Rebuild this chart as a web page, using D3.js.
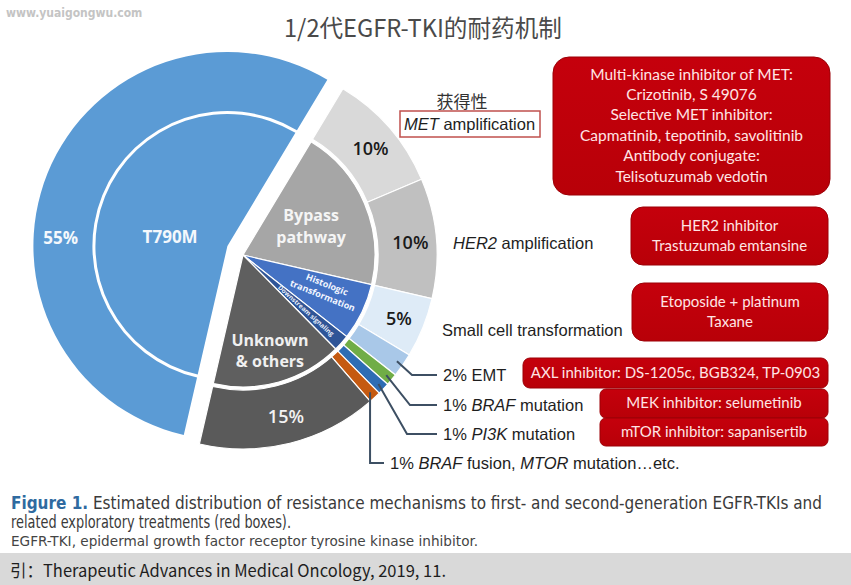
<!DOCTYPE html>
<html>
<head>
<meta charset="utf-8">
<script src="https://cdn.jsdelivr.net/npm/d3@7"></script>
<style>
body { margin: 0; background: #fff; }
</style>
</head>
<body>
<svg width="851" height="585"></svg>
<script>
// inner ring: mechanism groups
var innerNames = ["T790M", "Bypass pathway", "Histologic transformation", "Downstream signaling", "Unknown & others"];
var innerValues = [55, 20, 7, 2, 16];
var innerColors = ["#5b9bd5", "#a6a6a6", "#4472c4", "#2f5597", "#5f5f5f"];

// outer ring: single mechanisms (*word* = italic)
var outerNames = ["T790M", "*MET* amplification", "*HER2* amplification", "Small cell transformation", "EMT",
    "*BRAF* mutation", "*PI3K* mutation", "*BRAF* fusion, *MTOR* mutation\u2026etc.", "Unknown & others"];
var outerValues = [55, 10, 10, 5, 2, 1, 1, 1, 15];
var outerColors = ["#5b9bd5", "#d9d9d9", "#c0c0c0", "#deebf7", "#a9c8e8", "#70ad47", "#2e6db4", "#c55a11", "#5a5a5a"];

// treatments (red boxes)
var treatments = [
    ["Multi-kinase inhibitor of MET:", "Crizotinib, S 49076", "Selective MET inhibitor:",
     "Capmatinib, tepotinib, savolitinib", "Antibody conjugate:", "Telisotuzumab vedotin"],
    ["HER2 inhibitor", "Trastuzumab emtansine"],
    ["Etoposide + platinum", "Taxane"],
    ["AXL inhibitor: DS-1205c, BGB324, TP-0903"],
    ["MEK inhibitor: selumetinib"],
    ["mTOR inhibitor: sapanisertib"]
];

var title = "1/2\u4ee3EGFR-TKI\u7684\u8010\u836f\u673a\u5236";
var acquiredTag = "\u83b7\u5f97\u6027";
var captionLines = [
    "Estimated distribution of resistance mechanisms to first- and second-generation EGFR-TKIs and",
    "related exploratory treatments (red boxes).",
    "EGFR-TKI, epidermal growth factor receptor tyrosine kinase inhibitor."
];
var sourceNote = "\u5f15\uff1aTherapeutic Advances in Medical Oncology, 2019, 11.";

function init() {
    var svg = d3.select("svg");
    var rad = Math.PI / 180;
    var cx = 243, cy = 255,
        rIn = 132, rRing = 135, rOut = 194;

    function polar(r, a) { return [r * Math.sin(a), -r * Math.cos(a)]; }

    var pie = d3.pie().sort(null)
        .startAngle(193 * rad)
        .endAngle(193 * rad + 2 * Math.PI);
    var innerArcs = pie(innerValues),
        outerArcs = pie(outerValues);

    var arcIn = d3.arc().innerRadius(0).outerRadius(rIn),
        arcOut = d3.arc().innerRadius(rRing).outerRadius(rOut);

    // watermark + title
    svg.append("text")
        .attr("x", 6).attr("y", 17)
        .style("font-family", "'DejaVu Sans Condensed', 'DejaVu Sans', sans-serif")
        .style("font-weight", "bold").style("font-size", "12px")
        .attr("fill", "#c4c4c4")
        .text("www.yuaigongwu.com");

    svg.append("text")
        .attr("x", 284).attr("y", 37)
        .attr("textLength", 278).attr("lengthAdjust", "spacingAndGlyphs")
        .style("font-family", "'Noto Sans CJK SC', sans-serif")
        .style("font-size", "24px")
        .attr("fill", "#4a4a4a")
        .text(title);

    var chart = svg.append("g")
        .attr("transform", "translate(" + cx + "," + cy + ")");

    // exploded T790M slice
    var off = polar(18, 300 * rad);
    var blue = chart.append("g")
        .attr("transform", "translate(" + off[0] + "," + off[1] + ")");

    blue.append("path").attr("d", arcOut(outerArcs[0])).attr("fill", outerColors[0]);
    blue.append("path").attr("d", arcIn(innerArcs[0])).attr("fill", innerColors[0]);

    chart.selectAll("path.outer")
        .data(outerArcs.slice(1))
        .enter().append("path")
        .attr("class", "outer")
        .attr("d", arcOut)
        .attr("fill", function(d, i) { return outerColors[i + 1]; })
        .attr("stroke", "#fff")
        .attr("stroke-width", 1.2);

    chart.selectAll("path.inner")
        .data(innerArcs.slice(1))
        .enter().append("path")
        .attr("class", "inner")
        .attr("d", arcIn)
        .attr("fill", function(d, i) { return innerColors[i + 1]; })
        .attr("stroke", "#fff")
        .attr("stroke-width", 1.2);

    function mid(d) { return (d.startAngle + d.endAngle) / 2; }

    var labelFont = "'Open Sans', sans-serif";

    // blue slice labels
    [[outerValues[0] + "%", 167, 273], [innerNames[0], 58, 279]].forEach(function(l) {
        var p = polar(l[1], l[2] * rad);
        blue.append("text")
            .attr("x", p[0]).attr("y", p[1])
            .attr("text-anchor", "middle").attr("dominant-baseline", "central")
            .style("font-family", labelFont).style("font-weight", 700).style("font-size", "17px")
            .attr("fill", "#f4f8fc")
            .text(l[0]);
    });

    // outer percentages (big slices only)
    outerArcs.forEach(function(d, i) {
        if (i === 0 || d.value < 5) return;
        var p = polar(165, mid(d));
        chart.append("text")
            .attr("x", p[0] + 3).attr("y", p[1] + 1)
            .attr("text-anchor", "middle").attr("dominant-baseline", "central")
            .style("font-family", labelFont).style("font-weight", 600).style("font-size", "18px")
            .attr("fill", i === 8 ? "#f2f2f2" : "#1a1a1a")
            .text(d.value + "%");
    });

    // inner group labels
    function twoLine(g, lines, size, gap, colour, weight) {
        var t = g.append("text")
            .attr("text-anchor", "middle")
            .style("font-family", labelFont).style("font-weight", weight).style("font-size", size + "px")
            .attr("fill", colour);
        lines.forEach(function(s, k) {
            t.append("tspan").attr("x", 0)
                .attr("y", (k - (lines.length - 1) / 2) * gap)
                .attr("dominant-baseline", "central")
                .text(s);
        });
        return t;
    }

    var pB = polar(74, mid(innerArcs[1]));
    twoLine(chart.append("g").attr("transform", "translate(" + pB + ")"),
        ["Bypass", "pathway"], 16, 22, "#f5f5f5", 700);

    var pU = polar(99, mid(innerArcs[4]));
    twoLine(chart.append("g").attr("transform", "translate(" + pU + ")"),
        ["Unknown", "& others"], 16, 21, "#f0f0f0", 700);

    var pH = polar(89, 113 * rad);
    twoLine(chart.append("g").attr("transform", "translate(" + pH + ") rotate(22)"),
        ["Histologic", "transformation"], 9, 12, "#f2f6ff", 700);

    var pD = polar(84, mid(innerArcs[3]) - 0.5 * rad);
    twoLine(chart.append("g").attr("transform", "translate(" + pD + ") rotate(42)"),
        ["Downstream signaling"], 6.5, 0, "#e8eefa", 700);

    // right side labels
    var textFont = "'Liberation Sans', Arial, sans-serif";
    function richText(x, y, str) {
        var t = svg.append("text")
            .attr("x", x).attr("y", y)
            .attr("dominant-baseline", "central")
            .style("font-family", textFont).style("font-size", "16.5px")
            .attr("fill", "#1e1e1e");
        str.split("*").forEach(function(s, k) {
            if (!s) return;
            t.append("tspan").style("font-style", k % 2 ? "italic" : "normal").text(s);
        });
        return t;
    }

    svg.append("text")
        .attr("x", 462).attr("y", 100)
        .attr("text-anchor", "middle").attr("dominant-baseline", "central")
        .style("font-family", "'Noto Sans CJK SC', sans-serif").style("font-size", "17px")
        .attr("fill", "#333")
        .text(acquiredTag);
    svg.append("rect")
        .attr("x", 400).attr("y", 111).attr("width", 140).attr("height", 26)
        .attr("fill", "none").attr("stroke", "#c0504d").attr("stroke-width", 1.5);
    richText(404, 124, outerNames[1]);
    richText(453, 243, outerNames[2]);
    richText(442, 330, outerNames[3]);

    // leader lines for the thin slices
    var leadY = [375, 405, 434, 463],
        leadElbow = [412, 410, 407, null],
        leadTextX = [443, 443, 443, 390];
    [4, 5, 6, 7].forEach(function(idx, k) {
        var d = outerArcs[idx];
        var s = polar(187, mid(d));
        var x0 = cx + s[0], y0 = cy + s[1];
        var ex = leadElbow[k] === null ? x0 : leadElbow[k];
        svg.append("path")
            .attr("d", d3.line()([[x0, y0], [ex, leadY[k]], [leadTextX[k] - 6, leadY[k]]]))
            .attr("fill", "none")
            .attr("stroke", "#3d4f63")
            .attr("stroke-width", 2);
        richText(leadTextX[k], leadY[k], d.value + "% " + outerNames[idx]);
    });

    // red treatment boxes: x, y, w, h, corner, line gap
    var boxLayout = [
        [553, 57, 277, 138, 16, 20.4],
        [631, 207, 197, 58, 12, 20],
        [632, 283, 196, 58, 12, 20],
        [523, 358, 305, 30, 7, 0],
        [600, 389, 228, 29, 6, 0],
        [600, 418, 228, 28, 6, 0]
    ];
    var grad = svg.append("defs").append("linearGradient")
        .attr("id", "redbox").attr("x1", 0).attr("y1", 0).attr("x2", 0).attr("y2", 1);
    grad.append("stop").attr("offset", "0%").attr("stop-color", "#c5000c");
    grad.append("stop").attr("offset", "100%").attr("stop-color", "#b80008");

    treatments.forEach(function(lines, i) {
        var b = boxLayout[i];
        svg.append("rect")
            .attr("x", b[0]).attr("y", b[1])
            .attr("width", b[2]).attr("height", b[3])
            .attr("rx", b[4]).attr("ry", b[4])
            .attr("fill", "url(#redbox)")
            .attr("stroke", "#9c0006").attr("stroke-width", 1);
        var t = svg.append("text")
            .attr("text-anchor", "middle")
            .style("font-family", "Lato, 'Open Sans', sans-serif")
            .style("font-size", i === 0 ? "15.5px" : "15px")
            .attr("fill", "#ffe4e4");
        lines.forEach(function(s, k) {
            t.append("tspan")
                .attr("x", b[0] + b[2] / 2)
                .attr("y", b[1] + b[3] / 2 - 1.5 + (k - (lines.length - 1) / 2) * b[5])
                .attr("dominant-baseline", "central")
                .text(s);
        });
    });

    // caption
    var capFont = "'DejaVu Sans Condensed', 'DejaVu Sans', sans-serif";
    var cap1 = svg.append("text")
        .attr("x", 11).attr("y", 503).attr("dominant-baseline", "central")
        .attr("textLength", 811).attr("lengthAdjust", "spacingAndGlyphs")
        .style("font-family", capFont).style("font-size", "17px")
        .attr("fill", "#3a3a3a");
    cap1.append("tspan").style("font-weight", "bold").attr("fill", "#2f6aa0").text("Figure 1.");
    cap1.append("tspan").text("  " + captionLines[0]);

    svg.append("text")
        .attr("x", 11).attr("y", 522).attr("dominant-baseline", "central")
        .attr("textLength", 280).attr("lengthAdjust", "spacingAndGlyphs")
        .style("font-family", capFont).style("font-size", "17px")
        .attr("fill", "#3a3a3a")
        .text(captionLines[1]);

    svg.append("text")
        .attr("x", 11).attr("y", 541).attr("dominant-baseline", "central")
        .attr("textLength", 467).attr("lengthAdjust", "spacingAndGlyphs")
        .style("font-family", capFont).style("font-size", "14.5px")
        .attr("fill", "#444")
        .text(captionLines[2]);

    // source band
    svg.append("rect")
        .attr("x", 0).attr("y", 553).attr("width", 851).attr("height", 32)
        .attr("fill", "#d9d9d9");
    svg.append("text")
        .attr("x", 10).attr("y", 569).attr("dominant-baseline", "central")
        .attr("textLength", 436).attr("lengthAdjust", "spacingAndGlyphs")
        .style("font-family", "'Noto Sans CJK SC', sans-serif").style("font-size", "17px")
        .attr("fill", "#1e1e1e")
        .text(sourceNote);
}

init();
</script>
</body>
</html>
